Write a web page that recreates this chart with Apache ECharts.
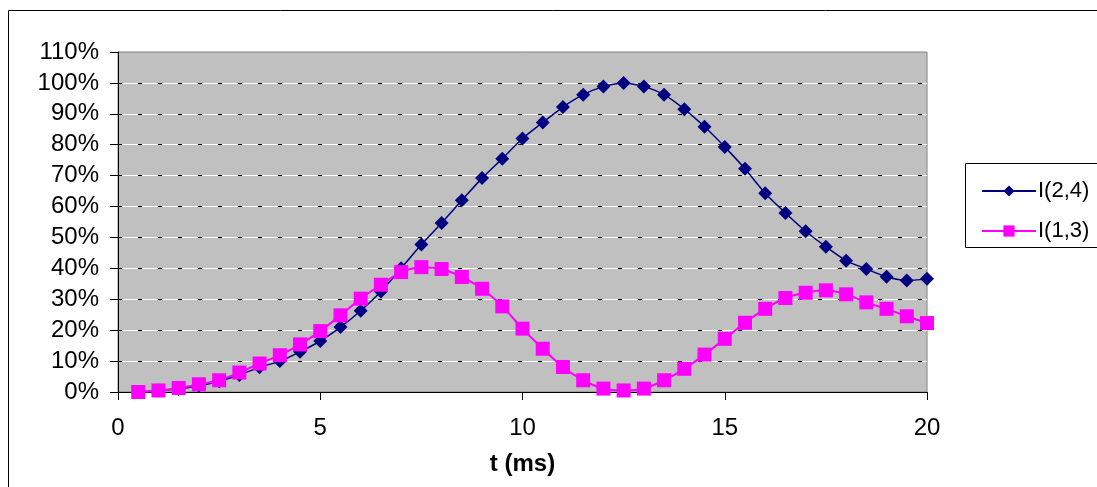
<!DOCTYPE html>
<html>
<head>
<meta charset="utf-8">
<script src="https://cdn.jsdelivr.net/npm/echarts@6/dist/echarts.min.js"></script>
<style>
html,body{margin:0;padding:0;background:#fff;}
#main{width:1097px;height:487px;}
</style>
</head>
<body>
<div id="main"></div>
<script>
var times = [0.5,1,1.5,2,2.5,3,3.5,4,4.5,5,5.5,6,6.5,7,7.5,8,8.5,9,9.5,10,
             10.5,11,11.5,12,12.5,13,13.5,14,14.5,15,15.5,16,16.5,17,17.5,18,18.5,19,19.5,20];
var seriesNames = ['I(2,4)', 'I(1,3)'];
var i24 = [0,0.5,1,2,3.5,5.5,8,10,13,16.5,21,26.3,32.5,40,47.7,54.7,62,69.2,75.5,82,
           87.2,92.2,96.2,98.8,100,98.8,96.2,91.5,85.8,79.3,72.2,64.3,57.9,52,47,42.5,39.8,37.3,36.1,36.6];
var i13 = [0,0.5,1.3,2.5,3.8,6.3,9.2,11.9,15.4,19.7,24.8,30.2,34.7,38.8,40.4,39.8,37.2,33.4,27.7,20.5,
           14.0,8.1,3.8,1.1,0.5,1.1,3.8,7.5,12.1,17.2,22.4,26.9,30.4,32.1,32.9,31.6,29.0,26.9,24.5,22.3];
var xTicks = {min:0, max:20, interval:5};
var yTicks = {min:0, max:110, interval:10};
var xTitle = 't (ms)';

function pairs(xs, ys){ return xs.map(function(x,i){ return [x, ys[i]]; }); }

var FONT = '"Liberation Sans", Arial, sans-serif';
var chart = echarts.init(document.getElementById('main'), null, {renderer:'canvas'});
chart.setOption({
  animation:false,
  backgroundColor:'#fff',
  graphic:[
    {type:'rect', shape:{x:8.5, y:10.5, width:1200, height:600}, style:{fill:'none', stroke:'#000', lineWidth:1}, z:0},
    {type:'rect', shape:{x:965.5, y:163.5, width:140, height:84}, style:{fill:'#fff', stroke:'#000', lineWidth:1}, z:1}
  ],
  legend:{
    left:976, top:175, orient:'vertical', itemWidth:54, itemHeight:14, itemGap:18,
    data:seriesNames,
    textStyle:{color:'#000', fontSize:22, fontFamily:FONT, padding:[0,0,0,-3]},
    z:5
  },
  grid:{left:118, top:52, width:809, height:340, show:true, backgroundColor:'#C0C0C0', borderColor:'#808080', borderWidth:1},
  xAxis:{
    type:'value', min:xTicks.min, max:xTicks.max, interval:xTicks.interval,
    name:xTitle, nameLocation:'middle', nameGap:60,
    nameTextStyle:{color:'#000', fontSize:24, fontWeight:'bold', fontFamily:FONT},
    axisLine:{show:true, onZero:false, lineStyle:{color:'#000', width:1}},
    axisTick:{show:true, length:8, lineStyle:{color:'#000'}},
    axisLabel:{color:'#000', fontSize:24, fontFamily:FONT, margin:24},
    splitLine:{show:false}
  },
  yAxis:[{
    type:'value', min:yTicks.min, max:yTicks.max, interval:yTicks.interval,
    axisLine:{show:true, lineStyle:{color:'#000', width:1}},
    axisTick:{show:true, length:8, lineStyle:{color:'#000'}},
    axisLabel:{color:'#000', fontSize:24, fontFamily:FONT, margin:19, formatter:'{value}%'},
    splitLine:{show:true, showMinLine:false, showMaxLine:false, lineStyle:{color:'#fff', width:1, type:'solid'}}
  },{
    type:'value', min:yTicks.min, max:yTicks.max, interval:yTicks.interval, position:'left',
    axisLine:{show:false}, axisTick:{show:false}, axisLabel:{show:false},
    splitLine:{show:true, showMinLine:false, showMaxLine:false, lineStyle:{color:'#000', width:1, type:[4,16], dashOffset:0}}
  }],
  series:[{
    name:seriesNames[0], type:'line', data:pairs(times, i24), smooth:0.25,
    symbol:'diamond', symbolSize:14, showAllSymbol:true, clip:false,
    lineStyle:{color:'#000080', width:1.5}, itemStyle:{color:'#000080'}, z:3
  },{
    name:seriesNames[1], type:'line', data:pairs(times, i13), smooth:0.25,
    symbol:'rect', symbolSize:14, showAllSymbol:true, clip:false,
    lineStyle:{color:'#FF00FF', width:2}, itemStyle:{color:'#FF00FF'}, z:4
  }]
});
</script>
</body>
</html>
